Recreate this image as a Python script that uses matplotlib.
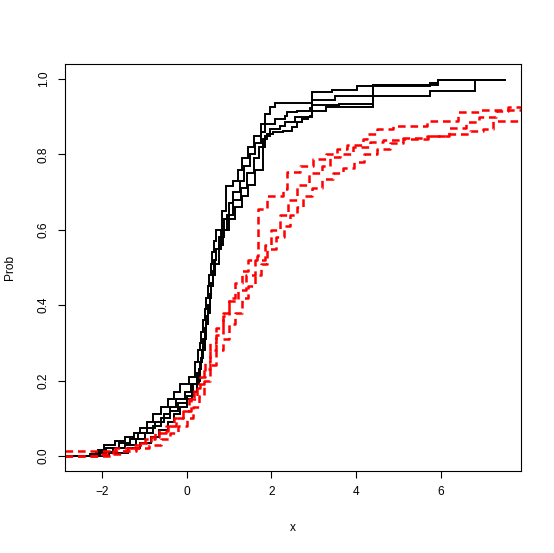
import matplotlib
matplotlib.use("Agg")
import matplotlib.pyplot as plt

plt.rcParams['font.family'] = ['Liberation Sans', 'DejaVu Sans']
plt.rcParams['lines.scale_dashes'] = False

# Black (solid) empirical CDFs: step positions and levels
b1_x = [-2.88, -2.30, -2.10, -1.95, -1.70, -1.45, -1.25, -1.10, -0.95, -0.80, -0.60, -0.45, -0.30, -0.15,
        0.05, 0.20, 0.26, 0.30, 0.34, 0.38, 0.42, 0.45, 0.49, 0.52, 0.56, 0.60, 0.64, 0.68, 0.82, 0.92,
        1.10, 1.20, 1.30, 1.45, 1.58, 1.75, 1.84, 1.96, 2.08, 2.96, 3.43, 4.02, 5.74, 5.93, 7.52]
b1_y = [0.0, 0.005, 0.015, 0.03, 0.04, 0.05, 0.06, 0.075, 0.09, 0.11, 0.13, 0.15, 0.17, 0.19,
        0.21, 0.25, 0.28, 0.30, 0.33, 0.36, 0.39, 0.42, 0.45, 0.48, 0.51, 0.54, 0.57, 0.60, 0.65, 0.715,
        0.73, 0.76, 0.79, 0.82, 0.85, 0.88, 0.907, 0.926, 0.936, 0.966, 0.971, 0.981, 0.99, 0.998, 0.998]

b2_x = [-2.88, -2.15, -1.90, -1.60, -1.35, -1.15, -0.95, -0.75, -0.55, -0.40, -0.25, -0.05, 0.10,
        0.25, 0.30, 0.35, 0.39, 0.42, 0.46, 0.50, 0.54, 0.58, 0.62, 0.65, 0.70, 0.75, 0.88, 1.00, 1.10,
        1.25, 1.35, 1.50, 1.62, 1.75, 1.84, 2.08, 2.32, 2.37, 2.60, 2.91, 2.96, 3.50, 4.40, 5.93, 7.52]
b2_y = [0.0, 0.008, 0.02, 0.035, 0.045, 0.06, 0.075, 0.09, 0.11, 0.13, 0.15, 0.17, 0.19,
        0.22, 0.25, 0.28, 0.31, 0.34, 0.37, 0.40, 0.43, 0.46, 0.49, 0.52, 0.55, 0.58, 0.63, 0.67, 0.70,
        0.73, 0.77, 0.80, 0.83, 0.86, 0.88, 0.894, 0.902, 0.912, 0.915, 0.923, 0.945, 0.955, 0.984, 0.997, 0.997]

b3_x = [-2.88, -2.05, -1.75, -1.45, -1.20, -1.00, -0.80, -0.60, -0.40, -0.20, 0.00, 0.15, 0.28,
        0.33, 0.38, 0.42, 0.46, 0.50, 0.54, 0.58, 0.62, 0.66, 0.70, 0.80, 0.95, 1.10, 1.28, 1.42, 1.58,
        1.70, 1.85, 1.96, 2.20, 2.32, 2.55, 2.91, 2.96, 3.60, 4.40, 5.74, 5.93, 7.52]
b3_y = [0.0, 0.01, 0.02, 0.03, 0.045, 0.06, 0.08, 0.10, 0.12, 0.14, 0.16, 0.19, 0.23,
        0.26, 0.29, 0.32, 0.35, 0.39, 0.42, 0.45, 0.48, 0.52, 0.55, 0.60, 0.64, 0.68, 0.71, 0.75, 0.79,
        0.82, 0.85, 0.867, 0.875, 0.886, 0.899, 0.902, 0.93, 0.935, 0.983, 0.99, 0.997, 0.997]

b4_x = [-2.88, -1.85, -1.40, -1.10, -0.85, -0.65, -0.45, -0.30, -0.15, 0.00, 0.12, 0.25, 0.32,
        0.37, 0.42, 0.46, 0.50, 0.54, 0.58, 0.62, 0.66, 0.75, 0.85, 1.00, 1.15, 1.30, 1.45, 1.60, 1.80,
        1.89, 2.03, 2.27, 2.48, 2.60, 2.72, 2.86, 2.96, 3.30, 4.40, 5.74, 6.81, 7.52]
b4_y = [0.0, 0.008, 0.02, 0.035, 0.05, 0.07, 0.09, 0.11, 0.13, 0.15, 0.17, 0.20, 0.25,
        0.28, 0.31, 0.35, 0.38, 0.42, 0.45, 0.48, 0.51, 0.56, 0.60, 0.63, 0.66, 0.69, 0.72, 0.76, 0.84,
        0.854, 0.859, 0.862, 0.872, 0.886, 0.894, 0.899, 0.915, 0.926, 0.955, 0.968, 0.997, 0.997]

# Red (dashed) empirical CDFs
r1_x = [-2.88, -2.00, -1.75, -1.40, -1.10, -0.85, -0.65, -0.45, -0.25, -0.10, 0.05, 0.18, 0.30,
        0.42, 0.55, 0.70, 0.85, 1.00, 1.15, 1.30, 1.45, 1.65, 1.68, 1.90, 2.27, 2.36, 2.67, 2.98, 3.30,
        3.55, 3.78, 4.16, 4.26, 4.49, 4.87, 5.67, 6.40, 6.90, 8.50]
r1_y = [0.0, 0.005, 0.012, 0.02, 0.035, 0.05, 0.065, 0.08, 0.10, 0.12, 0.15, 0.18, 0.21,
        0.25, 0.30, 0.34, 0.38, 0.42, 0.46, 0.49, 0.52, 0.53, 0.654, 0.689, 0.707, 0.753, 0.769, 0.787, 0.80,
        0.815, 0.825, 0.84, 0.855, 0.867, 0.875, 0.888, 0.912, 0.918, 0.918]

r2_x = [-2.88, -1.70, -1.30, -1.00, -0.75, -0.50, -0.30, -0.10, 0.10, 0.25, 0.40, 0.55, 0.70,
        0.85, 1.00, 1.20, 1.40, 1.60, 1.85, 2.00, 2.20, 2.40, 2.60, 2.90, 3.20, 3.38, 3.62, 3.92, 4.33,
        4.63, 5.11, 5.67, 6.15, 6.69, 7.00, 7.23, 8.50]
r2_y = [0.013, 0.02, 0.03, 0.045, 0.06, 0.08, 0.10, 0.12, 0.15, 0.19, 0.23, 0.28, 0.32,
        0.37, 0.41, 0.44, 0.48, 0.52, 0.56, 0.60, 0.64, 0.68, 0.72, 0.75, 0.77, 0.793, 0.80, 0.82, 0.832,
        0.838, 0.843, 0.848, 0.854, 0.862, 0.867, 0.888, 0.888]

r3_x = [-2.88, -1.80, -1.55, -1.20, -0.90, -0.60, -0.40, -0.20, 0.00, 0.15, 0.28, 0.40, 0.55,
        0.70, 0.85, 1.00, 1.15, 1.30, 1.45, 1.60, 1.75, 1.90, 2.10, 2.30, 2.45, 2.60, 2.75, 2.95, 3.20,
        3.45, 3.70, 3.95, 4.20, 4.50, 4.80, 5.10, 5.70, 6.20, 6.60, 6.90, 7.30, 7.60, 8.50]
r3_y = [0.0, 0.005, 0.012, 0.02, 0.03, 0.045, 0.06, 0.08, 0.10, 0.13, 0.16, 0.20, 0.24,
        0.28, 0.31, 0.35, 0.38, 0.42, 0.45, 0.48, 0.51, 0.55, 0.58, 0.61, 0.64, 0.66, 0.69, 0.71, 0.735,
        0.75, 0.765, 0.78, 0.80, 0.815, 0.83, 0.84, 0.85, 0.87, 0.885, 0.90, 0.915, 0.925, 0.925]

black_curves = [(b1_x, b1_y), (b2_x, b2_y), (b3_x, b3_y), (b4_x, b4_y)]
red_curves = [(r1_x, r1_y), (r2_x, r2_y), (r3_x, r3_y)]

x_ticks = [-2, 0, 2, 4, 6]
y_ticks = [0.0, 0.2, 0.4, 0.6, 0.8, 1.0]
y_tick_labels = ["0.0", "0.2", "0.4", "0.6", "0.8", "1.0"]

fig = plt.figure(figsize=(5.54, 5.53), dpi=100)
ax = fig.add_axes([65/554, 1-471/553, (521-65)/554, (471-64)/553])

for xs, ys in black_curves:
    ax.step(xs, ys, where='post', color='black', lw=1.4, solid_joinstyle='miter')
for xs, ys in red_curves:
    ax.step(xs, ys, where='post', color='red', lw=1.8, linestyle=(0, (5.5, 3.5)))

ax.set_xlim(-2.88, 7.9)
ax.set_ylim(-0.04, 1.04)
ax.set_xticks(x_ticks)
ax.set_xticklabels([str(t).replace('-', '\u2212') for t in x_ticks])
ax.set_yticks(y_ticks)
ax.set_yticklabels(y_tick_labels, rotation=90, va='center')
ax.tick_params(direction='out', length=5, width=0.8, labelsize=8.6, pad=6)
for s in ax.spines.values():
    s.set_linewidth(0.8)
ax.set_xlabel('x', fontsize=8.6, labelpad=17)
ax.set_ylabel('Prob', fontsize=8.6, labelpad=16)

fig.savefig('out.png', dpi=100)
